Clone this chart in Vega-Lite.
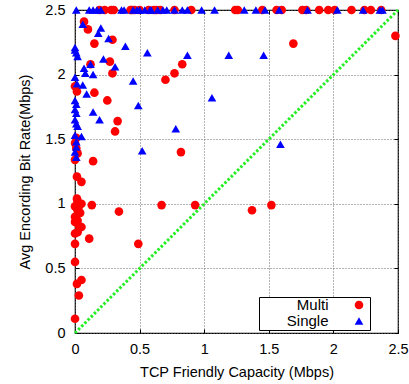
{
  "$schema": "https://vega.github.io/schema/vega-lite/v6.json",
  "width": 323,
  "height": 323,
  "autosize": {"type": "none"},
  "padding": {"left": 75, "top": 10, "right": 11, "bottom": 51},
  "background": "white",
  "config": {
    "font": "Liberation Sans",
    "view": {"stroke": "black", "strokeWidth": 1.2},
    "axis": {
      "labelFont": "Liberation Sans",
      "labelFontSize": 14.5,
      "labelColor": "black",
      "titleFont": "Liberation Sans",
      "titleFontSize": 14.5,
      "titleFontWeight": "normal",
      "titleColor": "black",
      "domain": false,
      "tickColor": "black",
      "tickSize": -4,
      "gridColor": "#666666",
      "gridDash": [1, 2],
      "gridWidth": 1
    },
    "legend": {
      "orient": "none",
      "legendX": 184,
      "legendY": 287,
      "strokeColor": "black",
      "fillColor": "white",
      "padding": 0.5,
      "rowPadding": 0,
      "labelFont": "Liberation Sans",
      "labelFontSize": 15,
      "labelColor": "black",
      "labelAlign": "right",
      "labelOffset": -38,
      "symbolOffset": 92,
      "symbolSize": 75,
      "symbolStrokeWidth": 0,
      "titleOrient": "right",
      "titleFontSize": 15,
      "titlePadding": 6
    }
  },
  "datasets": {
    "pts": [
      {"cap": 0.19, "rate": 2.5, "type": "Multi"},
      {"cap": 0.23, "rate": 2.5, "type": "Multi"},
      {"cap": 0.28, "rate": 2.5, "type": "Multi"},
      {"cap": 0.30, "rate": 2.5, "type": "Multi"},
      {"cap": 0.43, "rate": 2.5, "type": "Multi"},
      {"cap": 0.44, "rate": 2.5, "type": "Multi"},
      {"cap": 0.46, "rate": 2.5, "type": "Multi"},
      {"cap": 0.50, "rate": 2.5, "type": "Multi"},
      {"cap": 0.57, "rate": 2.5, "type": "Multi"},
      {"cap": 0.61, "rate": 2.5, "type": "Multi"},
      {"cap": 0.63, "rate": 2.5, "type": "Multi"},
      {"cap": 0.66, "rate": 2.5, "type": "Multi"},
      {"cap": 0.77, "rate": 2.5, "type": "Multi"},
      {"cap": 0.90, "rate": 2.5, "type": "Multi"},
      {"cap": 1.24, "rate": 2.5, "type": "Multi"},
      {"cap": 1.26, "rate": 2.5, "type": "Multi"},
      {"cap": 1.45, "rate": 2.5, "type": "Multi"},
      {"cap": 1.56, "rate": 2.5, "type": "Multi"},
      {"cap": 1.60, "rate": 2.5, "type": "Multi"},
      {"cap": 1.76, "rate": 2.5, "type": "Multi"},
      {"cap": 1.79, "rate": 2.5, "type": "Multi"},
      {"cap": 1.89, "rate": 2.5, "type": "Multi"},
      {"cap": 1.96, "rate": 2.5, "type": "Multi"},
      {"cap": 2.01, "rate": 2.5, "type": "Multi"},
      {"cap": 2.14, "rate": 2.5, "type": "Multi"},
      {"cap": 2.24, "rate": 2.5, "type": "Multi"},
      {"cap": 2.29, "rate": 2.5, "type": "Multi"},
      {"cap": 2.37, "rate": 2.5, "type": "Multi"},
      {"cap": 0.07, "rate": 2.41, "type": "Multi"},
      {"cap": 0.10, "rate": 2.35, "type": "Multi"},
      {"cap": 0.15, "rate": 2.24, "type": "Multi"},
      {"cap": 0.29, "rate": 2.27, "type": "Multi"},
      {"cap": 0.27, "rate": 2.10, "type": "Multi"},
      {"cap": 0.12, "rate": 2.08, "type": "Multi"},
      {"cap": 0.29, "rate": 2.01, "type": "Multi"},
      {"cap": 0.83, "rate": 2.08, "type": "Multi"},
      {"cap": 0.77, "rate": 2.01, "type": "Multi"},
      {"cap": 0.70, "rate": 1.96, "type": "Multi"},
      {"cap": 0.15, "rate": 1.86, "type": "Multi"},
      {"cap": 0.25, "rate": 1.80, "type": "Multi"},
      {"cap": 0.33, "rate": 1.64, "type": "Multi"},
      {"cap": 0.31, "rate": 1.56, "type": "Multi"},
      {"cap": 0.82, "rate": 1.40, "type": "Multi"},
      {"cap": 0.14, "rate": 1.33, "type": "Multi"},
      {"cap": 1.69, "rate": 2.24, "type": "Multi"},
      {"cap": 2.48, "rate": 2.30, "type": "Multi"},
      {"cap": 0.0, "rate": 1.91, "type": "Multi"},
      {"cap": 0.015, "rate": 1.87, "type": "Multi"},
      {"cap": 0.01, "rate": 1.51, "type": "Multi"},
      {"cap": 0.0, "rate": 1.47, "type": "Multi"},
      {"cap": 0.01, "rate": 1.43, "type": "Multi"},
      {"cap": 0.02, "rate": 1.39, "type": "Multi"},
      {"cap": 0.0, "rate": 1.34, "type": "Multi"},
      {"cap": 0.015, "rate": 1.21, "type": "Multi"},
      {"cap": 0.05, "rate": 1.17, "type": "Multi"},
      {"cap": 0.015, "rate": 1.04, "type": "Multi"},
      {"cap": 0.02, "rate": 1.02, "type": "Multi"},
      {"cap": 0.0, "rate": 0.98, "type": "Multi"},
      {"cap": 0.03, "rate": 0.98, "type": "Multi"},
      {"cap": 0.05, "rate": 1.0, "type": "Multi"},
      {"cap": 0.02, "rate": 0.95, "type": "Multi"},
      {"cap": 0.04, "rate": 0.93, "type": "Multi"},
      {"cap": 0.0, "rate": 0.90, "type": "Multi"},
      {"cap": 0.02, "rate": 0.87, "type": "Multi"},
      {"cap": 0.0, "rate": 0.86, "type": "Multi"},
      {"cap": 0.03, "rate": 0.83, "type": "Multi"},
      {"cap": 0.05, "rate": 0.82, "type": "Multi"},
      {"cap": 0.0, "rate": 0.77, "type": "Multi"},
      {"cap": 0.02, "rate": 0.78, "type": "Multi"},
      {"cap": 0.13, "rate": 0.99, "type": "Multi"},
      {"cap": 0.34, "rate": 0.94, "type": "Multi"},
      {"cap": 0.67, "rate": 0.99, "type": "Multi"},
      {"cap": 0.93, "rate": 0.99, "type": "Multi"},
      {"cap": 0.11, "rate": 0.73, "type": "Multi"},
      {"cap": 0.49, "rate": 0.69, "type": "Multi"},
      {"cap": 0.0, "rate": 0.69, "type": "Multi"},
      {"cap": 0.0, "rate": 0.55, "type": "Multi"},
      {"cap": 0.05, "rate": 0.41, "type": "Multi"},
      {"cap": 0.015, "rate": 0.38, "type": "Multi"},
      {"cap": 0.03, "rate": 0.29, "type": "Multi"},
      {"cap": 0.0, "rate": 0.11, "type": "Multi"},
      {"cap": 1.37, "rate": 0.95, "type": "Multi"},
      {"cap": 1.52, "rate": 0.99, "type": "Multi"},
      {"cap": 0.01, "rate": 2.5, "type": "Single"},
      {"cap": 0.11, "rate": 2.5, "type": "Single"},
      {"cap": 0.14, "rate": 2.5, "type": "Single"},
      {"cap": 0.17, "rate": 2.5, "type": "Single"},
      {"cap": 0.20, "rate": 2.5, "type": "Single"},
      {"cap": 0.36, "rate": 2.5, "type": "Single"},
      {"cap": 0.38, "rate": 2.5, "type": "Single"},
      {"cap": 0.45, "rate": 2.5, "type": "Single"},
      {"cap": 0.48, "rate": 2.5, "type": "Single"},
      {"cap": 0.50, "rate": 2.5, "type": "Single"},
      {"cap": 0.54, "rate": 2.5, "type": "Single"},
      {"cap": 0.58, "rate": 2.5, "type": "Single"},
      {"cap": 0.59, "rate": 2.5, "type": "Single"},
      {"cap": 0.64, "rate": 2.5, "type": "Single"},
      {"cap": 0.68, "rate": 2.5, "type": "Single"},
      {"cap": 0.71, "rate": 2.5, "type": "Single"},
      {"cap": 0.77, "rate": 2.5, "type": "Single"},
      {"cap": 0.83, "rate": 2.5, "type": "Single"},
      {"cap": 0.87, "rate": 2.5, "type": "Single"},
      {"cap": 0.98, "rate": 2.5, "type": "Single"},
      {"cap": 1.08, "rate": 2.5, "type": "Single"},
      {"cap": 1.31, "rate": 2.5, "type": "Single"},
      {"cap": 1.40, "rate": 2.5, "type": "Single"},
      {"cap": 1.47, "rate": 2.5, "type": "Single"},
      {"cap": 1.58, "rate": 2.5, "type": "Single"},
      {"cap": 1.80, "rate": 2.5, "type": "Single"},
      {"cap": 2.03, "rate": 2.5, "type": "Single"},
      {"cap": 2.23, "rate": 2.5, "type": "Single"},
      {"cap": 2.36, "rate": 2.5, "type": "Single"},
      {"cap": 2.38, "rate": 2.5, "type": "Single"},
      {"cap": 0.06, "rate": 2.39, "type": "Single"},
      {"cap": 0.20, "rate": 2.36, "type": "Single"},
      {"cap": 0.18, "rate": 2.32, "type": "Single"},
      {"cap": 0.26, "rate": 2.28, "type": "Single"},
      {"cap": 0.39, "rate": 2.22, "type": "Single"},
      {"cap": 0.56, "rate": 2.17, "type": "Single"},
      {"cap": 0.87, "rate": 2.15, "type": "Single"},
      {"cap": 1.19, "rate": 2.15, "type": "Single"},
      {"cap": 1.46, "rate": 2.15, "type": "Single"},
      {"cap": 0.0, "rate": 2.21, "type": "Single"},
      {"cap": 0.0, "rate": 2.19, "type": "Single"},
      {"cap": 0.01, "rate": 2.17, "type": "Single"},
      {"cap": 0.02, "rate": 2.14, "type": "Single"},
      {"cap": 0.22, "rate": 2.12, "type": "Single"},
      {"cap": 0.12, "rate": 2.08, "type": "Single"},
      {"cap": 0.31, "rate": 2.06, "type": "Single"},
      {"cap": 0.07, "rate": 2.05, "type": "Single"},
      {"cap": 0.08, "rate": 2.01, "type": "Single"},
      {"cap": 0.14, "rate": 2.0, "type": "Single"},
      {"cap": 0.0, "rate": 1.98, "type": "Single"},
      {"cap": 0.45, "rate": 1.95, "type": "Single"},
      {"cap": 0.015, "rate": 1.93, "type": "Single"},
      {"cap": 0.06, "rate": 1.92, "type": "Single"},
      {"cap": 0.09, "rate": 1.85, "type": "Single"},
      {"cap": 1.06, "rate": 1.82, "type": "Single"},
      {"cap": 0.49, "rate": 1.76, "type": "Single"},
      {"cap": 0.14, "rate": 1.71, "type": "Single"},
      {"cap": 0.19, "rate": 1.65, "type": "Single"},
      {"cap": 0.78, "rate": 1.58, "type": "Single"},
      {"cap": 0.05, "rate": 1.52, "type": "Single"},
      {"cap": 0.52, "rate": 1.41, "type": "Single"},
      {"cap": 1.59, "rate": 1.46, "type": "Single"},
      {"cap": 0.0, "rate": 1.80, "type": "Single"},
      {"cap": 0.01, "rate": 1.77, "type": "Single"},
      {"cap": 0.0, "rate": 1.73, "type": "Single"},
      {"cap": 0.01, "rate": 1.70, "type": "Single"},
      {"cap": 0.0, "rate": 1.65, "type": "Single"},
      {"cap": 0.01, "rate": 1.62, "type": "Single"},
      {"cap": 0.02, "rate": 1.60, "type": "Single"},
      {"cap": 0.0, "rate": 1.53, "type": "Single"},
      {"cap": 0.01, "rate": 1.48, "type": "Single"},
      {"cap": 0.01, "rate": 1.44, "type": "Single"},
      {"cap": 0.0, "rate": 1.40, "type": "Single"},
      {"cap": 0.01, "rate": 1.36, "type": "Single"}
    ],
    "diag": [
      {"cap": 0, "rate": 0},
      {"cap": 2.5, "rate": 2.5}
    ]
  },
  "layer": [
    {
      "data": {"name": "pts"},
      "mark": {"type": "point", "filled": true, "size": 75, "opacity": 1, "strokeWidth": 0},
      "encoding": {
        "x": {
          "field": "cap", "type": "quantitative",
          "scale": {"domain": [0, 2.5], "nice": false},
          "axis": {"title": "TCP Friendly Capacity (Mbps)", "values": [0, 0.5, 1, 1.5, 2, 2.5], "format": "~g", "labelPadding": 13, "titlePadding": 10, "labelFlush": false}
        },
        "y": {
          "field": "rate", "type": "quantitative",
          "scale": {"domain": [0, 2.5], "nice": false},
          "axis": {"title": "Avg Encording Bit Rate(Mbps)", "values": [0, 0.5, 1, 1.5, 2, 2.5], "format": "~g", "labelPadding": 14, "titlePadding": 12, "labelFlush": false}
        },
        "color": {
          "field": "type", "type": "nominal",
          "scale": {"domain": ["Multi", "Single"], "range": ["#ff0000", "#0000ff"]},
          "legend": {"title": "\u00a0\u00a0\u00a0\u00a0\u00a0", "labelExpr": "'\u00a0\u00a0\u00a0\u00a0\u00a0' + datum.label"}
        },
        "shape": {
          "field": "type", "type": "nominal",
          "scale": {"domain": ["Multi", "Single"], "range": ["circle", "triangle-up"]},
          "legend": {"title": "\u00a0\u00a0\u00a0\u00a0\u00a0", "labelExpr": "'\u00a0\u00a0\u00a0\u00a0\u00a0' + datum.label"}
        }
      }
    },
    {
      "data": {"name": "diag"},
      "mark": {"type": "line", "color": "#22ee22", "strokeWidth": 3, "strokeDash": [2.5, 2]},
      "encoding": {
        "x": {
          "field": "cap", "type": "quantitative",
          "axis": {"orient": "top", "title": null, "labels": false, "grid": false, "values": [0, 0.5, 1, 1.5, 2, 2.5]}
        },
        "y": {
          "field": "rate", "type": "quantitative",
          "axis": {"orient": "right", "title": null, "labels": false, "grid": false, "values": [0, 0.5, 1, 1.5, 2, 2.5]}
        }
      }
    }
  ],
  "resolve": {"axis": {"x": "independent", "y": "independent"}}
}
